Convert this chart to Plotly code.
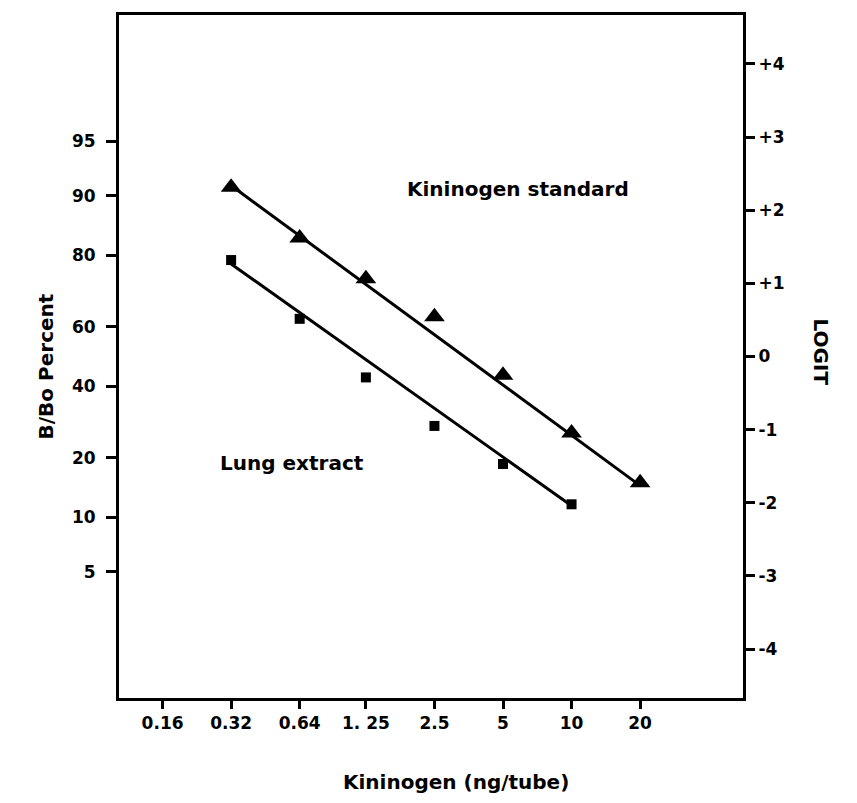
import numpy as np
import plotly.graph_objects as go

# Data (B/Bo percent)
x_ticks = [0.16, 0.32, 0.64, 1.25, 2.5, 5, 10, 20]
x_tick_labels = ["0.16", "0.32", "0.64", "1. 25", "2.5", "5", "10", "20"]

std_x = [0.32, 0.64, 1.25, 2.5, 5, 10, 20]
std_pct = [91.0, 83.5, 74.3, 63.3, 43.6, 26.0, 15.1]

lung_x = [0.32, 0.64, 1.25, 2.5, 5, 10]
lung_pct = [78.9, 62.6, 42.9, 27.9, 18.7, 11.7]

std_fit_x = [0.32, 20]
std_fit_pct = [91.2, 14.6]
lung_fit_x = [0.32, 10]
lung_fit_pct = [78.0, 11.5]

pct_ticks = [5, 10, 20, 40, 60, 80, 90, 95]
logit_ticks = [-4, -3, -2, -1, 0, 1, 2, 3, 4]
logit_labels = ["-4", "-3", "-2", "-1", "0", "+1", "+2", "+3", "+4"]


def logit(p):
    p = np.asarray(p, dtype=float) / 100.0
    return np.log(p / (1 - p))


FONT = "DejaVu Sans, sans-serif"
YR = [-4.67, 4.67]

# plot frame in page pixels
L, R, T, B = 118, 742, 12, 698
OFFX, OFFY = 7, 8
PW, PH = R - L, B - T

fig = go.Figure()

fig.add_trace(go.Scatter(x=std_fit_x, y=logit(std_fit_pct), mode="lines",
                         line=dict(color="black", width=3), showlegend=False))
fig.add_trace(go.Scatter(x=lung_fit_x, y=logit(lung_fit_pct), mode="lines",
                         line=dict(color="black", width=3), showlegend=False))
fig.add_trace(go.Scatter(x=std_x, y=logit(std_pct), mode="markers",
                         marker=dict(symbol="triangle-up", size=18, color="black"),
                         showlegend=False))
fig.add_trace(go.Scatter(x=lung_x, y=logit(lung_pct), mode="markers",
                         marker=dict(symbol="square", size=10, color="black"),
                         showlegend=False))
# invisible trace to activate right axis
fig.add_trace(go.Scatter(x=[1], y=[0], yaxis="y2", mode="markers",
                         marker=dict(opacity=0), showlegend=False, hoverinfo="skip"))

tickfont = dict(family=FONT, size=17, color="black", weight="bold")

fig.update_layout(
    width=857, height=803,
    margin=dict(l=L - OFFX, r=857 - R + OFFX, t=T - OFFY, b=803 - B + OFFY),
    plot_bgcolor="white", paper_bgcolor="white",
    xaxis=dict(type="log", range=[np.log10(0.103), np.log10(56.6)],
               tickvals=x_ticks, ticktext=x_tick_labels,
               ticks="outside", ticklen=8, tickwidth=3, tickcolor="black",
               showgrid=False, zeroline=False,
               showline=True, linewidth=3, linecolor="black", mirror=True,
               tickfont=tickfont, ticklabelstandoff=0),
    yaxis=dict(range=YR, tickvals=list(logit(pct_ticks)),
               ticktext=[str(p) for p in pct_ticks],
               ticks="outside", ticklen=10, tickwidth=3, tickcolor="black",
               showgrid=False, zeroline=False,
               showline=True, linewidth=3, linecolor="black", mirror=True,
               tickfont=tickfont, ticklabelstandoff=7),
    yaxis2=dict(range=YR, overlaying="y", side="right",
                tickvals=logit_ticks, ticktext=logit_labels,
                ticks="outside", ticklen=11, tickwidth=3, tickcolor="black",
                showgrid=False, zeroline=False, showline=False,
                tickfont=tickfont, ticklabelstandoff=0),
)


def px2paper(x, y):
    return (x - L) / PW, (B - y) / PH


title_font = dict(family=FONT, size=20, color="black", weight="bold")


def label(text, x, y, angle=0):
    px, py = px2paper(x, y)
    fig.add_annotation(text=text, xref="paper", yref="paper", x=px, y=py,
                       xanchor="center", yanchor="middle", showarrow=False,
                       textangle=angle, font=title_font)


label("Kininogen (ng/tube)", 455, 782)
label("B/Bo Percent", 45, 365, -90)
label("LOGIT", 820, 350, 90)
label("Kininogen standard", 517, 187)
label("Lung extract", 291, 462)

fig.write_html("out.html")
